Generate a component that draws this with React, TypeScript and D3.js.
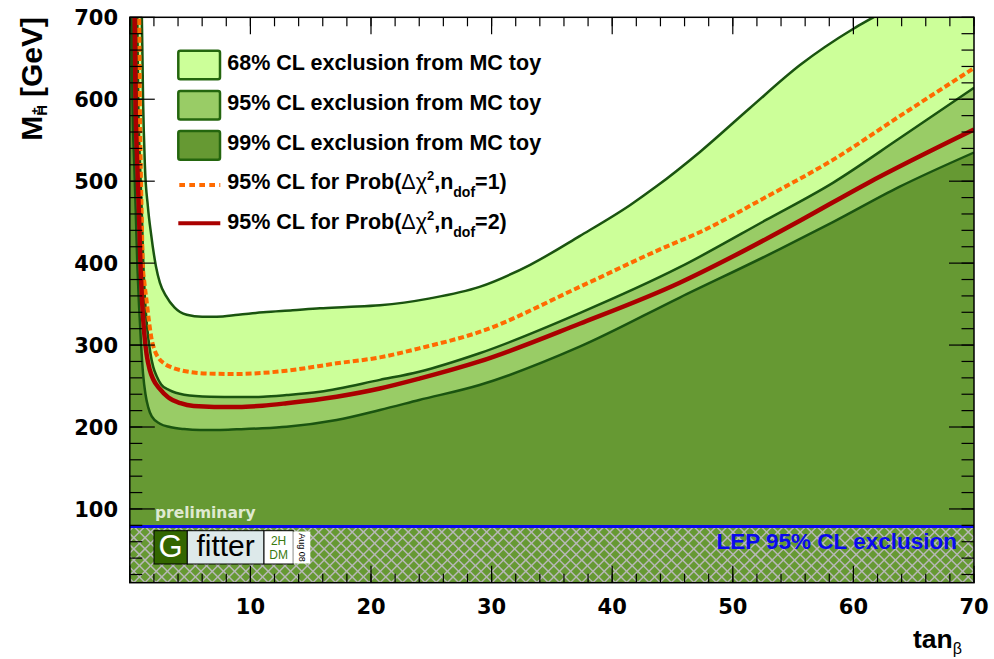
import React from "react";
import * as d3 from "d3";

type P = [number, number];

const xDomain: [number, number] = [0, 70];
const yDomain: [number, number] = [10, 700];
const xTickLabels = [10, 20, 30, 40, 50, 60, 70];
const yTickLabels = [100, 200, 300, 400, 500, 600, 700];
const lepLimit = 78.6;

// 68% CL exclusion boundary (tan beta, M_H+)
const cl68Curve: P[] = [
  [0.95, 720], [1.0, 700], [1.1, 600], [1.25, 520], [1.5, 469], [1.76, 436], [2.17, 396],
  [2.5, 376], [3.0, 360], [3.7, 346], [4.72, 337], [6.0, 334.5], [7.2, 334.6], [9.0, 337],
  [11.07, 340], [13.5, 342.5], [15.77, 345], [18.0, 346.5], [20.74, 348.5], [24.9, 357],
  [29.0, 371], [33.2, 398], [37.3, 433], [41.5, 471], [43.7, 494], [47.3, 536], [51.4, 589],
  [55.6, 642], [60.0, 686], [61.65, 700], [63.5, 716],
];
// 95% CL exclusion boundary
const cl95Curve: P[] = [
  [0.6, 720], [0.62, 700], [0.7, 600], [0.85, 520], [1.0, 460], [1.12, 400], [1.25, 358],
  [1.45, 320], [1.7, 291], [1.95, 273], [2.2, 263], [2.6, 252], [3.28, 245], [4.5, 239.5],
  [6.65, 237], [9.0, 236.5], [11.07, 237], [13.0, 239], [15.77, 243], [20.74, 257.5],
  [24.0, 267.5], [29.0, 290], [37.3, 339], [45.6, 395], [52.8, 453], [58.3, 498],
  [63.8, 552], [70.0, 614],
];
// 99% CL exclusion boundary
const cl99Curve: P[] = [
  [0.12, 720], [0.15, 700], [0.22, 600], [0.37, 520], [0.5, 460], [0.62, 400], [0.76, 350],
  [0.92, 305], [1.1, 265], [1.3, 240], [1.53, 224], [1.82, 213], [2.5, 204], [3.33, 200],
  [4.5, 197.5], [5.82, 196.4], [7.5, 196.5], [8.86, 197.2], [11.0, 198.5], [13.0, 200.4],
  [17.15, 208.6], [20.74, 220.8], [24.0, 233], [29.0, 251.3], [37.3, 298], [45.6, 358],
  [53.9, 417], [58.3, 450], [63.8, 493], [70.0, 535],
];
// 95% CL for Prob(dchi2, ndof=1)
const ndof1Curve: P[] = [
  [0.76, 720], [0.78, 700], [0.83, 600], [0.93, 500], [1.0, 450], [1.07, 400], [1.22, 375],
  [1.4, 353], [1.6, 328], [1.8, 308], [2.05, 294], [2.4, 284], [2.9, 277], [3.5, 272.5],
  [4.3, 269], [5.3, 266.5], [7.0, 265], [8.86, 264.7], [11.0, 266], [13.0, 268.7],
  [17.15, 277.7], [20.74, 285], [24.0, 296], [29.0, 316], [37.3, 371], [44.0, 417],
  [47.3, 438], [52.8, 481], [58.3, 526], [63.8, 579], [70.0, 638],
];
// 95% CL for Prob(dchi2, ndof=2)
const ndof2Curve: P[] = [
  [0.38, 720], [0.4, 700], [0.47, 600], [0.62, 520], [0.76, 460], [0.88, 400], [1.0, 358],
  [1.2, 314], [1.4, 288], [1.65, 270], [1.95, 258], [2.45, 247], [3.2, 236], [4.2, 229],
  [5.3, 225.5], [7.0, 224.5], [9.0, 224.5], [11.0, 226], [13.0, 229], [17.15, 237],
  [20.74, 247], [24.0, 259], [29.0, 280], [37.3, 326], [45.6, 376], [50.0, 408],
  [55.6, 452], [61.1, 497], [70.0, 563],
];

const legendLabels = [
  "68% CL exclusion from MC toy",
  "95% CL exclusion from MC toy",
  "99% CL exclusion from MC toy",
];

const C68 = "#ccff99";
const C95 = "#99cc66";
const C99 = "#669933";
const LINE_GREEN = "#1a5410";
const ORANGE = "#ff6a00";
const RED = "#aa0000";
const BLUE = "#0a0aee";
const ARIAL = "'Liberation Sans', Arial, sans-serif";
const DEJAVU = "'DejaVu Sans', sans-serif";

export default function App() {
  const left = 129.8, right = 974, top = 17.3, bottom = 582.7;
  const x = d3.scaleLinear().domain(xDomain).range([left, right]);
  const y = d3.scaleLinear().domain(yDomain).range([bottom, top]);
  const line = d3
    .line<P>()
    .x((d) => x(d[0]))
    .y((d) => y(d[1]))
    .curve(d3.curveMonotoneX);

  const areaPath = (pts: P[]) => {
    const first = pts[0];
    const last = pts[pts.length - 1];
    return (
      line(pts) +
      `L${right + 5},${y(last[1])}L${right + 5},${bottom + 10}L${left - 5},${bottom + 10}L${left - 5},${y(first[1])}Z`
    );
  };

  const hatchTop = y(lepLimit);
  const hh = bottom - hatchTop;
  const hatchLines = d3.range(-20, 100).map((k) => left + 4 + k * 11.2);

  const xMinor = d3.range(xDomain[0], xDomain[1] + 0.01, 2);
  const xMajor = d3.range(0, 70.01, 10);
  const yMinor = d3.range(20, 700.01, 20);
  const yMajor = d3.range(100, 700.01, 100);

  const legX = 178.3;
  const legRow = (i: number) => 65 + 40.2 * i;

  return (
    <svg
      width={994}
      height={659}
      style={{ position: "absolute", left: 0, top: 0, background: "#fff" }}
    >
      <defs>
        <clipPath id="plotClip">
          <rect x={left} y={top} width={right - left} height={bottom - top} />
        </clipPath>
        <clipPath id="hatchClip">
          <rect x={left} y={hatchTop} width={right - left} height={hh} />
        </clipPath>
      </defs>
      <rect x={0} y={0} width={994} height={659} fill="#fff" />
      <g clipPath="url(#plotClip)">
        <path d={areaPath(cl68Curve)} fill={C68} />
        <path d={areaPath(cl95Curve)} fill={C95} />
        <path d={areaPath(cl99Curve)} fill={C99} />
        <g clipPath="url(#hatchClip)" stroke="#b8b8b8" strokeWidth={1.5}>
          {hatchLines.map((x0, i) => (
            <g key={i}>
              <line x1={x0} y1={hatchTop} x2={x0 + hh} y2={bottom} />
              <line x1={x0} y1={hatchTop} x2={x0 - hh} y2={bottom} />
            </g>
          ))}
        </g>
        <path d={line(cl68Curve) || ""} fill="none" stroke={LINE_GREEN} strokeWidth={2.5} />
        <path d={line(cl95Curve) || ""} fill="none" stroke={LINE_GREEN} strokeWidth={2.5} />
        <path d={line(cl99Curve) || ""} fill="none" stroke={LINE_GREEN} strokeWidth={2.5} />
        <path
          d={line(ndof1Curve) || ""}
          fill="none"
          stroke={ORANGE}
          strokeWidth={4}
          strokeDasharray="6 3"
        />
        <path d={line(ndof2Curve) || ""} fill="none" stroke={RED} strokeWidth={4.5} />
        <line x1={left} x2={right} y1={y(lepLimit)} y2={y(lepLimit)} stroke={BLUE} strokeWidth={3} />
      </g>

      {/* preliminary & LEP text */}
      <text x={155} y={518} fontFamily={DEJAVU} fontWeight="bold" fontSize={15.5} fill="#dfe9d0">
        preliminary
      </text>
      <text
        x={957}
        y={549}
        fontFamily={ARIAL}
        fontWeight="bold"
        fontSize={22.5}
        fill={BLUE}
        textAnchor="end"
      >
        LEP 95% CL exclusion
      </text>

      {/* Gfitter logo */}
      <g>
        <rect x={154} y={530.7} width={33.3} height={33.3} fill="#336600" stroke="#000" strokeWidth={1} />
        <text x={170.6} y={557} textAnchor="middle" fontFamily={ARIAL} fontSize={31} fill="#fff">
          G
        </text>
        <rect x={187.3} y={530.7} width={76.7} height={33.3} fill="#dde9ea" stroke="#000" strokeWidth={1} />
        <text x={225.6} y={556} textAnchor="middle" fontFamily={ARIAL} fontSize={30} fill="#000">
          fitter
        </text>
        <rect x={264} y={530.7} width={29.3} height={33.3} fill="#fff" stroke="#000" strokeWidth={1} />
        <text x={278.6} y={545} textAnchor="middle" fontFamily={ARIAL} fontSize={12} fill="#3a7a10">
          2H
        </text>
        <text x={278.6} y={558.5} textAnchor="middle" fontFamily={ARIAL} fontSize={12} fill="#3a7a10">
          DM
        </text>
        <rect x={293.3} y={531.5} width={17} height={32} fill="#fff" />
        <text
          transform="translate(298.5,547.5) rotate(90)"
          textAnchor="middle"
          fontFamily={ARIAL}
          fontSize={9}
          fill="#000"
        >
          Aug 08
        </text>
      </g>

      {/* Legend */}
      {legendLabels.map((lab, i) => (
        <g key={lab}>
          <rect
            x={legX}
            y={legRow(i) - 14.3}
            width={41.7}
            height={28.6}
            rx={2}
            fill={[C68, C95, C99][i]}
            stroke="#24660e"
            strokeWidth={2.5}
          />
          <text x={227.3} y={legRow(i) + 5} fontFamily={ARIAL} fontWeight="bold" fontSize={21.5} fill="#000">
            {lab}
          </text>
        </g>
      ))}
      <line
        x1={legX + 1}
        x2={legX + 42}
        y1={185}
        y2={185}
        stroke={ORANGE}
        strokeWidth={4}
        strokeDasharray="5.7 4.3"
      />
      <line x1={legX} x2={legX + 42} y1={223.3} y2={223.3} stroke={RED} strokeWidth={4} />
      {[1, 2].map((n, i) => (
        <text
          key={n}
          x={227.3}
          y={legRow(3 + i) + 5 - 2}
          fontFamily={ARIAL}
          fontWeight="bold"
          fontSize={21.5}
          fill="#000"
        >
          95% CL for Prob(
          <tspan fontWeight="normal">{"\u0394\u03C7"}</tspan>
          <tspan fontSize={13} dy={-9}>2</tspan>
          <tspan dy={9}>,n</tspan>
          <tspan fontSize={14} dy={8}>dof</tspan>
          <tspan dy={-8}>{`=${n})`}</tspan>
        </text>
      ))}

      {/* Frame and ticks */}
      <g stroke="#000" strokeWidth={1.2}>
        {xMinor.map((v) => (
          <g key={"xm" + v}>
            <line x1={x(v)} x2={x(v)} y1={bottom} y2={bottom - 9} />
            <line x1={x(v)} x2={x(v)} y1={top} y2={top + 9} />
          </g>
        ))}
        {xMajor.map((v) => (
          <g key={"xM" + v}>
            <line x1={x(v)} x2={x(v)} y1={bottom} y2={bottom - 17} />
            <line x1={x(v)} x2={x(v)} y1={top} y2={top + 17} />
          </g>
        ))}
        {yMinor.map((v) => (
          <g key={"ym" + v}>
            <line x1={left} x2={left + 12.5} y1={y(v)} y2={y(v)} />
            <line x1={right} x2={right - 12.5} y1={y(v)} y2={y(v)} />
          </g>
        ))}
        {yMajor.map((v) => (
          <g key={"yM" + v}>
            <line x1={left} x2={left + 25} y1={y(v)} y2={y(v)} />
            <line x1={right} x2={right - 25} y1={y(v)} y2={y(v)} />
          </g>
        ))}
      </g>
      <rect
        x={left}
        y={top}
        width={right - left}
        height={bottom - top}
        fill="none"
        stroke="#000"
        strokeWidth={1.5}
      />

      {/* Tick labels */}
      {xTickLabels.map((v) => (
        <text
          key={"xl" + v}
          x={x(v)}
          y={613.5}
          textAnchor="middle"
          fontFamily={DEJAVU}
          fontWeight="bold"
          fontSize={21}
          fill="#000"
        >
          {v}
        </text>
      ))}
      {yTickLabels.map((v) => (
        <text
          key={"yl" + v}
          x={118}
          y={y(v) + 7.8}
          textAnchor="end"
          fontFamily={DEJAVU}
          fontWeight="bold"
          fontSize={21}
          fill="#000"
        >
          {v}
        </text>
      ))}

      {/* Axis titles */}
      <text x={962} y={648} textAnchor="end" fontFamily={ARIAL} fontWeight="bold" fontSize={26.5} fill="#000">
        tan
        <tspan fontWeight="normal" fontSize={16} dy={6}>
          {"\u03B2"}
        </tspan>
      </text>
      <text
        transform="translate(42,17) rotate(-90)"
        textAnchor="end"
        fontFamily={ARIAL}
        fontWeight="bold"
        fontSize={30}
        fill="#000"
      >
        M
        <tspan fontSize={15} dy={5}>H</tspan>
        <tspan fontSize={13} dx={-9.5} dy={-7.5}>{"\u00B1"}</tspan>
        <tspan dx={2} dy={2.5}>{" [GeV]"}</tspan>
      </text>
    </svg>
  );
}
